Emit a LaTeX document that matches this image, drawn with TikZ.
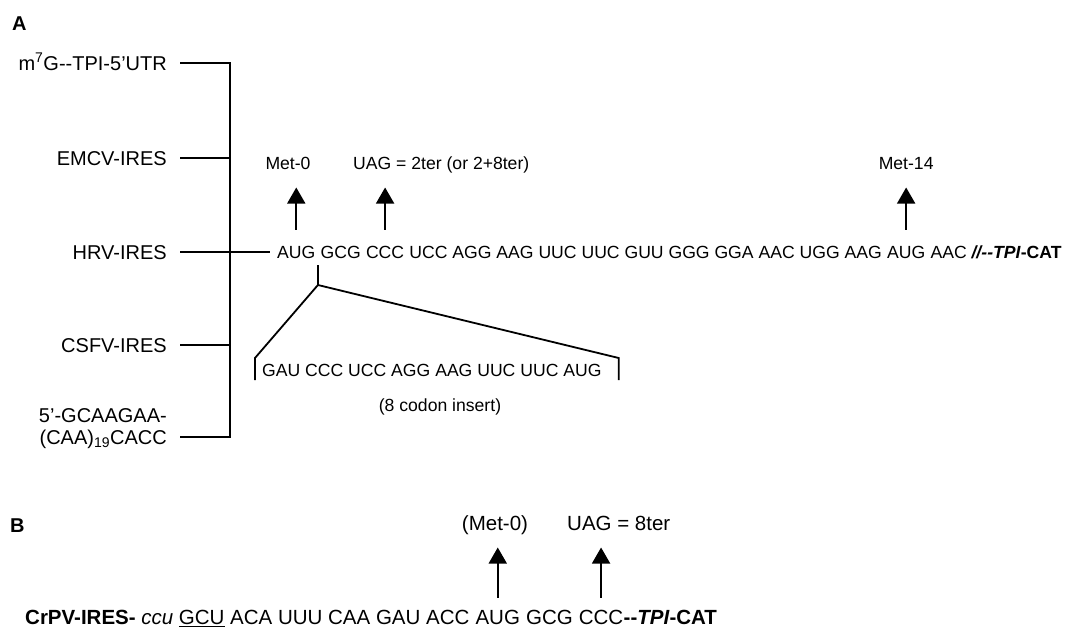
\documentclass[tikz,border=0pt]{standalone}
\usepackage{fontspec}
\newfontfamily\helv{Liberation Sans}
\usetikzlibrary{arrows.meta,positioning}

\begin{document}
\begin{tikzpicture}[x=1pt,y=-1pt,
  txt/.style={inner sep=0pt,text height=12.6pt,text depth=0pt,font=\helv\fontsize{17.6}{20}\selectfont},
  txtB/.style={inner sep=0pt,text height=14.6pt,text depth=0pt,font=\helv\fontsize{20.5}{24}\selectfont},
  lbl/.style={inner sep=0pt,text height=14.3pt,text depth=0pt,anchor=east,font=\helv\fontsize{20}{24}\selectfont},
  hd/.style={inner sep=0pt,text height=14.3pt,text depth=0pt,anchor=west,font=\helv\bfseries\fontsize{20}{24}\selectfont},
  arr/.style={line width=1.6pt,-{Triangle[width=18pt,length=16pt]}},
  brk/.style={line width=1.8pt}]
\useasboundingbox (0,0) rectangle (1088,632);
% panel A
\node[hd] (hdA) at (12,23) {A};
\node[lbl] (utr) at (167,63) {m\textsuperscript{7}G-{}-TPI-5’UTR};
\node[lbl] (emcv) at (167,158) {EMCV-IRES};
\node[lbl] (hrv) at (167,252) {HRV-IRES};
\node[lbl] (csfv) at (167,345) {CSFV-IRES};
\node[lbl] (gca) at (167,415) {5’-GCAAGAA-};
\node[lbl] (caa) at (167,437) {(CAA)\textsubscript{19}CACC};
\coordinate (trunk) at (230,0);
\draw[brk] ([xshift=13pt]utr.east) -- (utr.east -| trunk) -- (caa.east -| trunk) -- ([xshift=13pt]caa.east);
\draw[brk] ([xshift=13pt]emcv.east) -- (emcv.east -| trunk);
\draw[brk] ([xshift=13pt]csfv.east) -- (csfv.east -| trunk);
% reporter sequence
\node[txt,anchor=west] (sA1) at (277,252) {AUG};
\node[txt,right=4.9pt of sA1] (sA2) {GCG};
\node[txt,right=4.9pt of sA2] (sA3) {CCC};
\node[txt,right=4.9pt of sA3] (sA4) {UCC AGG AAG UUC UUC GUU GGG GGA AAC UGG AAG};
\node[txt,right=4.9pt of sA4] (sA5) {AUG};
\node[txt,right=4.9pt of sA5] (sA6) {AAC \textbf{\textit{//-{}-TPI}-CAT}};
\draw[brk] ([xshift=13pt]hrv.east) -- ([xshift=-7pt]sA1.west);
\node[txt] (met0) at (288,163) {Met-0};
\node[txt,anchor=west] (uag2) at (353,163) {UAG = 2ter (or 2+8ter)};
\node[txt] (met14) at (sA5.north |- met0) {Met-14};
\draw[arr,shorten <=16pt,shorten >=18pt] (sA1.north) -- (sA1.north |- met0.south);
\draw[arr,shorten <=16pt,shorten >=18pt] (sA3.north) -- (sA3.north |- uag2.south);
\draw[arr,shorten <=16pt,shorten >=18pt] (sA5.north) -- (sA5.north |- met14.south);
% insert
\coordinate[right=2.4pt of sA1] (stub);
\coordinate (apex) at ([yshift=-33pt]stub);
\draw[brk] ([yshift=-13pt]stub) -- (apex);
\node[txt,anchor=west] (ins) at (262,370) {GAU CCC UCC AGG AAG UUC UUC AUG};
\draw[brk] ([shift={(-7,10)}]ins.west) -- ([shift={(-7,-12)}]ins.west) -- (apex)
  -- ([shift={(17,-12)}]ins.east) -- ([shift={(17,10)}]ins.east);
\node[txt] (cnote) at (440,405) {(8 codon insert)};
% panel B
\node[hd] (hdB) at (10,525) {B};
\node[txtB,anchor=west] (sB1) at (25,617) {\textbf{CrPV-IRES-} \textit{ccu} \underline{GCU} ACA UUU CAA GAU ACC};
\node[txtB,right=5.7pt of sB1] (sB2) {AUG};
\node[txtB,right=5.7pt of sB2] (sB3) {GCG};
\node[txtB,right=5.7pt of sB3] (sB4) {CCC};
\node[txtB,right=0pt of sB4] (sB5) {\textbf{-{}-\textit{TPI}-CAT}};
\node[txtB] (met0b) at (495,523) {(Met-0)};
\node[txtB,anchor=west] (uag8) at (567,523) {UAG = 8ter};
\draw[arr,shorten <=12pt,shorten >=17pt] (sB2.north) -- (sB2.north |- met0b.south);
\draw[arr,shorten <=12pt,shorten >=17pt] (sB4.north) -- (sB4.north |- uag8.south);
\end{tikzpicture}
\end{document}
